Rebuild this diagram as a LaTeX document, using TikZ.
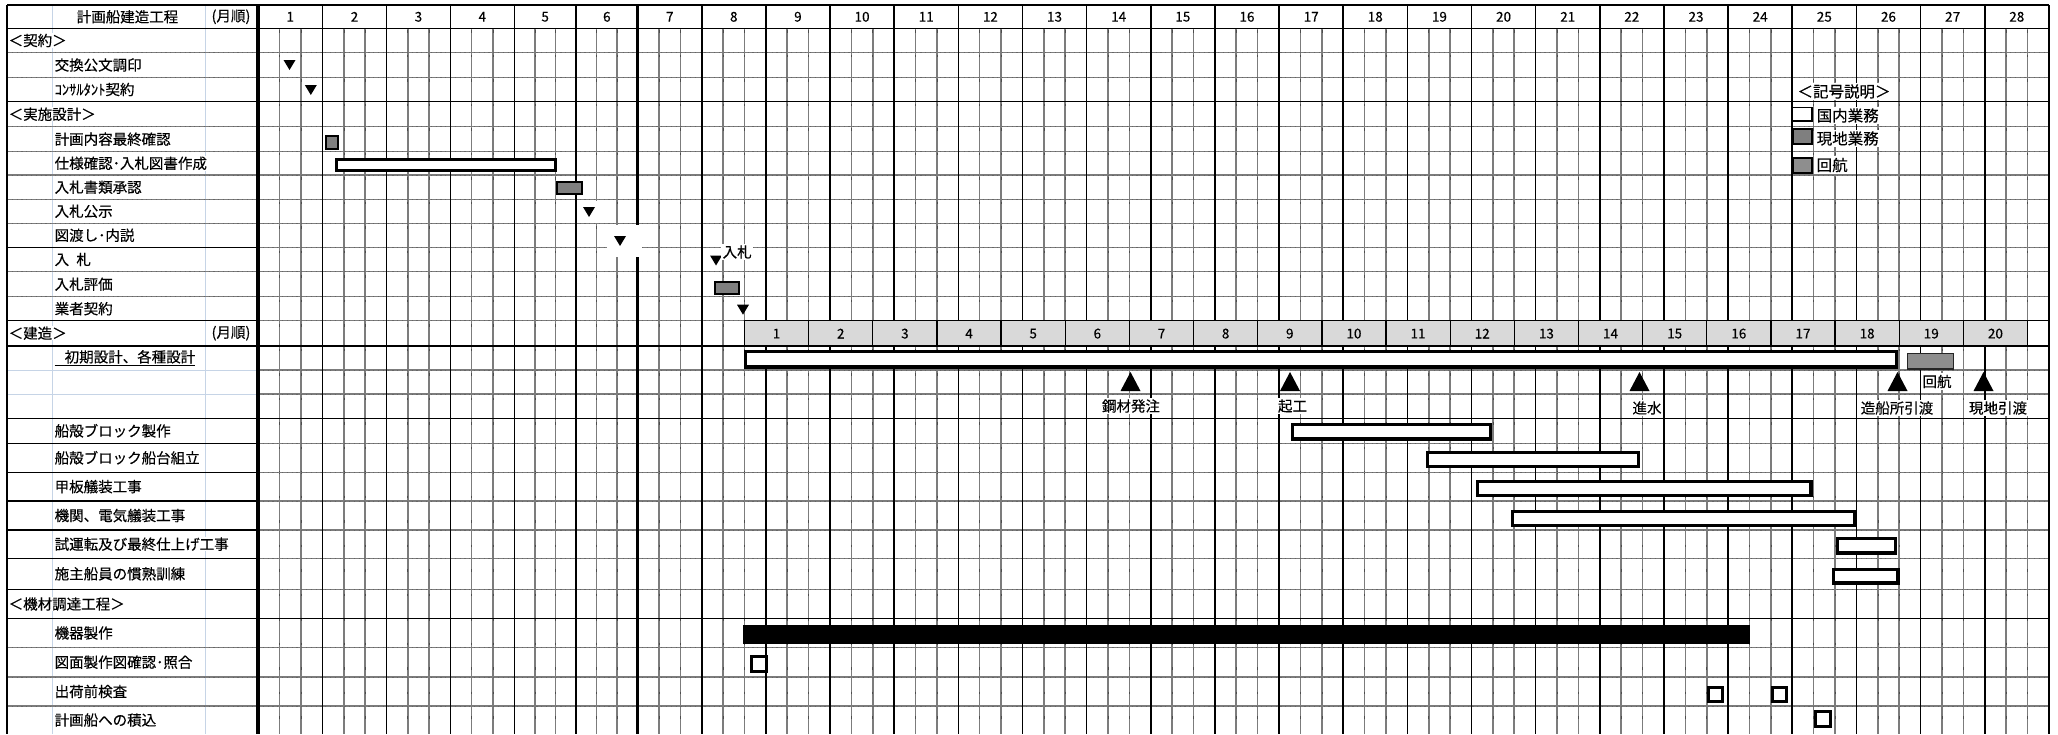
\documentclass[tikz,border=0pt]{standalone}
\usepackage{fontspec}
\setmainfont{Noto Sans CJK JP}[FakeBold=0.3]
\definecolor{gridgray}{HTML}{7C7C7C}
\definecolor{xlblue}{HTML}{C6D4E6}
\definecolor{hdrgray}{HTML}{D9D9D9}
\definecolor{localgray}{HTML}{7F7F7F}
\definecolor{voygray}{HTML}{8E8E8E}
\begin{document}
\begin{tikzpicture}[x=1pt,y=-1pt,
  subline/.style={draw=gridgray,line width=1.6pt},
  dotover/.style={draw=black!60,line width=0.6pt,dash pattern=on 1.2pt off 3.6pt},
  vdotover/.style={draw=black!70,line width=0.6pt,dash pattern=on 2.5pt off 22pt},
  rowgray/.style={draw=gridgray,line width=1.5pt},
  rowblack/.style={draw=black,line width=1.3pt},
  monthline/.style={draw=black,line width=1.6pt},
  xlgrid/.style={draw=xlblue,line width=1pt},
  txt/.style={inner sep=0pt,font=\fontsize{14.5}{16}\selectfont},
  lbl/.style={txt,anchor=west,fill=white,inner sep=0.5pt},
  num/.style={inner sep=0pt,font=\fontsize{13.5}{15}\selectfont},
  chdr/.style={fill=hdrgray,draw=black,line width=1.3pt},
  wbar/.style={draw=black,fill=white,line width=3.2pt},
  gbox/.style={draw=black,fill=localgray,line width=2pt},
  voyage/.style={draw=black!85,fill=voygray,line width=1.6pt},
  tag/.style={txt,fill=white,inner sep=1.5pt},
  legtxt/.style={tag,font=\fontsize{15.5}{17}\selectfont},
  dnmark/.pic={\fill[black] (-6,-5) -- (6,-5) -- (0,5) -- cycle;},
  upmark/.pic={\fill[black] (-10,9.5) -- (10,9.5) -- (0,-9.5) -- cycle;},
]
\fill[white] (0,0) rectangle (2058,734);
\useasboundingbox (0,0) rectangle (2058,734);

% ---- sub columns and month numbers
\foreach \s/\w [count=\n] in {258/64.5,322.5/64,386.5/63.8,450.3/64,514.3/61.7,576/61.7,637.7/64}{
  \draw[subline] ({\s+\w/3},28.3) -- ({\s+\w/3},734);
  \draw[subline] ({\s+2*\w/3},28.3) -- ({\s+2*\w/3},734);
  \draw[vdotover] ({\s+\w/3},30) -- ({\s+\w/3},734);
  \draw[vdotover] ({\s+2*\w/3},30) -- ({\s+2*\w/3},734);
  \node[num] (m\n) at ({\s+\w/2},16.8) {\n};
}
\foreach \n in {8,...,28}{
  \pgfmathsetmacro{\s}{701.7+(\n-8)*64.15}
  \draw[subline] ({\s+21.383},28.3) -- ({\s+21.383},734);
  \draw[subline] ({\s+42.767},28.3) -- ({\s+42.767},734);
  \draw[vdotover] ({\s+21.383},30) -- ({\s+21.383},734);
  \draw[vdotover] ({\s+42.767},30) -- ({\s+42.767},734);
  \node[num] (m\n) at ({\s+32.075},16.8) {\n};
}

% ---- gantt horizontal lines
\foreach \y in {52.7,77.3,126.7,151.7,175,199.3,223.3,247.3,271.7,296.7,320.7,370,394,443.3,472.3,501,530,558.3,589.3,647.5,677,706}{
  \draw[rowgray] (258,\y) -- (2048.85,\y);
  \draw[dotover] (258,\y) -- (2048.85,\y);
}
% ---- month boundaries
\foreach \x in {322.5,386.5,450.3,514.3,576,701.7,765.85,830,894.15,958.3,1022.45,1086.6,1150.75,1214.9,1279.05,1343.2,1407.35,1471.5,1535.65,1599.8,1663.95,1728.1,1792.25,1856.4,1920.55,1984.7}{
  \draw[monthline] (\x,5) -- (\x,734);
}
\draw[draw=black,line width=3pt] (637.7,5) -- (637.7,734);
\draw[draw=black,line width=2.6pt] (2048.85,5) -- (2048.85,734);
\foreach \y in {5,28.3,101.7,418.3,618.5}{
  \draw[rowblack] (258,\y) -- (2048.85,\y);
}

% ---- label column grid
\draw[xlgrid] (52,5) -- (52,734);
\draw[xlgrid] (205,5) -- (205,734);
\foreach \y in {52.7,77.3,126.7,151.7,175,199.3,223.3,271.7,296.7,647.5,677,706}{
  \draw[rowgray] (7,\y) -- (258,\y);
  \draw[dotover] (7,\y) -- (258,\y);
}
\foreach \y in {370,394}{
  \draw[xlgrid] (7,\y) -- (258,\y);
}
\foreach \y in {5,28.3,101.7,247.3,320.7,418.3,443.3,472.3,501,530,558.3,589.3,618.5}{
  \draw[rowblack] (7,\y) -- (258,\y);
}
\draw[rowblack] (7,5) -- (7,734);
\draw[draw=black,line width=3.2pt] (258,5) -- (258,734);

% ---- construction month header
\foreach \c in {1,...,20}{
  \pgfmathsetmacro{\s}{744.5+(\c-1)*64.15}
  \draw[chdr] (\s,320.7) rectangle ({\s+64.15},345.7);
  \node[num] (c\c) at ({\s+32.075},333.6) {\c};
}
\draw[draw=black,fill=white,line width=1.3pt] (2027.5,320.7) rectangle (2048.85,345.7);
\draw[draw=black,line width=2.4pt] (7,345.7) -- (2048.85,345.7);

% ---- header texts
\node[txt] (title) at (127.5,16.8) {計画船建造工程};
\node[txt] (order1) at (231,16.8) {(月順)};

% ---- row labels
\node[lbl] (r01) at (8,40.5) {＜契約＞};
\node[lbl] (r02) at (54,65) {交換公文調印};
\node[lbl] (r03) at (54,89.5) {ｺﾝｻﾙﾀﾝﾄ契約};
\node[lbl] (r04) at (8,114.2) {＜実施設計＞};
\node[lbl] (r05) at (54,139.2) {計画内容最終確認};
\node[lbl] (r06) at (54,163.3) {仕様確認･入札図書作成};
\node[lbl] (r07) at (54,187.2) {入札書類承認};
\node[lbl] (r08) at (54,211.3) {入札公示};
\node[lbl] (r09) at (54,235.3) {図渡し･内説};
\node[lbl] (r10) at (54,259.5) {入\hspace{0.5em}札};
\node[lbl] (r11) at (54,284.2) {入札評価};
\node[lbl] (r12) at (54,308.7) {業者契約};
\node[lbl] (r13) at (8,333.2) {＜建造＞};
\node[txt,fill=white,inner sep=0.5pt] (order2) at (231,333.2) {(月順)};
\node[lbl] (r14) at (54,357.8) {\underline{\hspace{10pt}初期設計、各種設計}};
\node[lbl] (r15) at (54,430.8) {船殻ブロック製作};
\node[lbl] (r16) at (54,457.8) {船殻ブロック船台組立};
\node[lbl] (r17) at (54,486.6) {甲板艤装工事};
\node[lbl] (r18) at (54,515.5) {機関、電気艤装工事};
\node[lbl] (r19) at (54,544.2) {試運転及び最終仕上げ工事};
\node[lbl] (r20) at (54,573.8) {施主船員の慣熟訓練};
\node[lbl] (r21) at (8,604) {＜機材調達工程＞};
\node[lbl] (r22) at (54,633) {機器製作};
\node[lbl] (r23) at (54,662.2) {図面製作図確認･照合};
\node[lbl] (r24) at (54,691.5) {出荷前検査};
\node[lbl] (r25) at (54,720) {計画船への積込};

% ---- white patches behind marks
\fill[white] (577,200.5) rectangle (606,222.5);
\fill[white] (606.5,224.5) rectangle (642,256.5);
\fill[white] (704,252) rectangle (721,270);

% ---- contract / design marks
\pic (k1) at (289.5,65) {dnmark};
\pic (k2) at (310.8,90) {dnmark};
\draw[gbox] (325.5,136) rectangle (337.5,148.5);
\draw[wbar] (336.6,159.1) rectangle (555.1,170.4);
\draw[gbox] (557,181.5) rectangle (582,193.5);
\pic (k3) at (589,212) {dnmark};
\pic (k4) at (620,241) {dnmark};
\pic (k5) at (716,260.5) {dnmark};
\node[tag,anchor=west] (nyu) at (721,252) {入札};
\draw[gbox] (715,282) rectangle (738.5,293.5);
\pic (k6) at (743,309.7) {dnmark};

% ---- construction bars
\draw[wbar] (745.1,351.1) rectangle (1896.4,366.9);
\draw[voyage] (1907.5,353.5) rectangle (1953.5,369);
\node[tag] (kaiko) at (1937,381.5) {回航};

\node[tag] (t1) at (1131,406) {鋼材発注};
\node[tag] (t2) at (1292.5,406) {起工};
\node[tag] (t3) at (1647,408) {進水};
\node[tag] (t4) at (1897,408) {造船所引渡};
\node[tag] (t5) at (1998,408) {現地引渡};
\pic (u1) at (1130.5,381.5) {upmark};
\pic (u2) at (1290,381.5) {upmark};
\pic (u3) at (1639.5,381.5) {upmark};
\pic (u4) at (1897.5,381.5) {upmark};
\pic (u5) at (1983.5,381.5) {upmark};

\draw[wbar] (1292.1,424.6) rectangle (1490.4,438.9);
\draw[wbar] (1427.6,452.6) rectangle (1638.4,466.4);
\draw[wbar] (1477.1,481.6) rectangle (1810.9,495.4);
\draw[wbar] (1512.6,511.1) rectangle (1854.9,525.4);
\draw[wbar] (1837.1,538.6) rectangle (1895.4,552.9);
\draw[wbar] (1833.6,569.6) rectangle (1897.9,582.9);

% ---- procurement
\fill[black] (742.5,625) rectangle (1750,643.5);
\draw[draw=black,fill=white,line width=3pt] (751.5,656.5) rectangle (766,671);
\draw[draw=black,fill=white,line width=3pt] (1708,687) rectangle (1722,701);
\draw[draw=black,fill=white,line width=3pt] (1772,687) rectangle (1786,701);
\draw[draw=black,fill=white,line width=3pt] (1815,711) rectangle (1830,726);

% ---- legend
\node[legtxt] (lg) at (1844,91.5) {＜記号説明＞};
\draw[draw=black,fill=white,line width=1.8pt] (1792.5,107.5) rectangle (1812,121);
\node[legtxt,anchor=west] (lg1) at (1815,115.5) {国内業務};
\draw[gbox] (1792.5,129) rectangle (1811.5,144);
\node[legtxt,anchor=west] (lg2) at (1815,138.5) {現地業務};
\draw[draw=black,fill=voygray,line width=2pt] (1792.5,157.5) rectangle (1811.5,173);
\node[legtxt,anchor=west] (lg3) at (1815,165) {回航};
\end{tikzpicture}
\end{document}
